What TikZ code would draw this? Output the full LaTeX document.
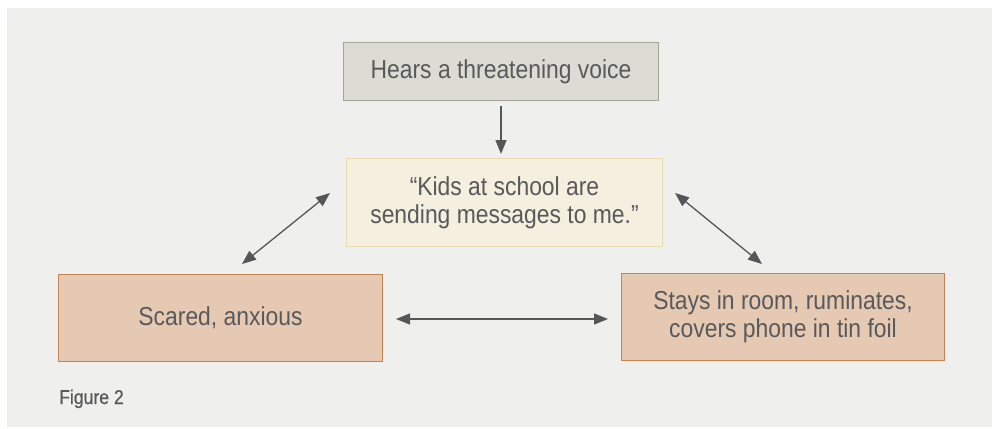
\documentclass[tikz,border=0pt]{standalone}
\usepackage{fontspec}
\setmainfont{Liberation Sans}[FakeStretch=0.88]
\newfontfamily\figfont{Liberation Sans}[FakeStretch=0.88,FakeBold=0.6]
\usetikzlibrary{arrows.meta}
\definecolor{bgc}{HTML}{EFEFED}
\definecolor{txt}{HTML}{58595B}
\definecolor{topfill}{HTML}{DCDCD4}
\definecolor{topdraw}{HTML}{A3A595}
\definecolor{midfill}{HTML}{F5EFE0}
\definecolor{middraw}{HTML}{E9DAB0}
\definecolor{orfill}{HTML}{E6C9B3}
\definecolor{ordraw}{HTML}{C7834F}
\definecolor{arr}{HTML}{555658}
\tikzset{
  boxbase/.style={rectangle, inner sep=0pt, line width=1pt, text=txt, font=\fontsize{26}{28}\selectfont, align=center, anchor=north west},
  topbox/.style={boxbase, fill=topfill, draw=topdraw},
  midbox/.style={boxbase, fill=midfill, draw=middraw},
  orbox/.style={boxbase, fill=orfill, draw=ordraw},
  conn/.style={draw=arr, line width=1.3pt, -{Triangle[length=14pt,width=11pt]}},
  conn2/.style={draw=arr, line width=1.3pt, {Triangle[length=14pt,width=11pt]}-{Triangle[length=14pt,width=11pt]}}
}
\begin{document}
\begin{tikzpicture}[x=1pt,y=-1pt]
\useasboundingbox (0,0) rectangle (992,428);
\fill[bgc] (7,8) rectangle (992,427);
\node[topbox, minimum width=315pt, minimum height=58pt] (hear) at (343,42) {Hears a threatening voice};
\node[midbox, minimum width=316pt, minimum height=88pt] (kids) at (346,158) {“Kids at school are\\sending messages to me.”};
\node[orbox, minimum width=324pt, minimum height=87pt] (scared) at (58,274) {Scared, anxious};
\node[orbox, minimum width=323pt, minimum height=87pt] (stays) at (621,273) {Stays in room, ruminates,\\covers phone in tin foil};
\node[anchor=base west, inner sep=0pt, text=txt, font=\figfont\fontsize{20}{22}\selectfont] (fig) at (59,404) {Figure 2};
\coordinate (hA) at (501,106);
\coordinate (hB) at (501,154);
\draw[conn] (hA) -- (hB);
\coordinate (lA) at (242,264);
\coordinate (lB) at (330,193);
\draw[conn2] (lA) -- (lB);
\coordinate (rA) at (675,193);
\coordinate (rB) at (762,264);
\draw[conn2] (rA) -- (rB);
\coordinate (mA) at (396,319);
\coordinate (mB) at (608,319);
\draw[conn2] (mA) -- (mB);
\end{tikzpicture}
\end{document}
